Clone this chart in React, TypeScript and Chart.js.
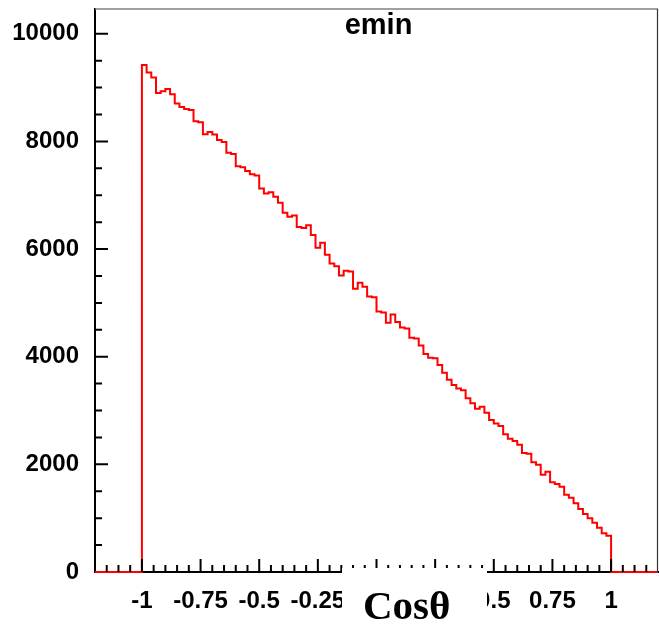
import React, { useEffect, useRef } from 'react';
import { Chart, registerables } from 'chart.js';

Chart.register(...registerables);

// ---- data ----
const histTitle = 'emin';
const axisTitle = 'Cosθ';

const xMin = -1.2;
const xMax = 1.2;
const binWidth = 0.02;
const yMin = 0;
const yMax = 10460;

// bins from -1.2 to -1.0 (empty)
const leftEmptyBins = [0, 0, 0, 0, 0, 0, 0, 0, 0, 0];

// bins from -1.0 to 1.0, width 0.02
const counts = [
  9421, 9280, 9186, 8901, 8932, 8975, 8877, 8703, 8641, 8604,
  8585, 8375, 8357, 8134, 8177, 8128, 8028, 7991, 7787, 7768,
  7540, 7521, 7452, 7391, 7367, 7125, 7033, 7057, 6970, 6858,
  6673, 6598, 6624, 6412, 6390, 6444, 6260, 6026, 6115, 5892,
  5732, 5682, 5509, 5595, 5585, 5261, 5372, 5298, 5120, 5105,
  4841, 4820, 4630, 4785, 4643, 4544, 4525, 4351, 4340, 4210,
  4048, 3980, 3970, 3844, 3701, 3570, 3476, 3408, 3377, 3226,
  3133, 3033, 3070, 2958, 2823, 2761, 2711, 2557, 2476, 2433,
  2364, 2210, 2198, 2037, 1993, 1807, 1863, 1666, 1634, 1584,
  1435, 1380, 1276, 1170, 1077, 997, 916, 823, 718, 674,
];

// bins from 1.0 to 1.2 (empty)
const rightEmptyBins = [0, 0, 0, 0, 0, 0, 0, 0, 0, 0];

const xMajorTicks = [-1, -0.75, -0.5, -0.25, 0, 0.25, 0.5, 0.75, 1];
const xTickLabels = ['-1', '-0.75', '-0.5', '-0.25', '0', '0.25', '0.5', '0.75', '1'];
const xMinorStep = 0.05;

const yMajorTicks = [0, 2000, 4000, 6000, 8000, 10000];
const yTickLabels = ['0', '2000', '4000', '6000', '8000', '10000'];
const yMinorStep = 500;

// ---- styles ----
const tickFont = { family: '"Liberation Sans", Arial, sans-serif', size: 24, weight: 'bold' as const };

const rootFramePlugin = {
  id: 'rootFrame',
  afterDraw(chart: any) {
    const { ctx, chartArea: a, scales } = chart;
    const xs = scales.x;
    const ys = scales.y;
    ctx.save();

    // top & right frame
    ctx.strokeStyle = '#808080';
    ctx.lineWidth = 1.5;
    ctx.beginPath();
    ctx.moveTo(a.left, a.top);
    ctx.lineTo(a.right, a.top);
    ctx.stroke();
    ctx.strokeStyle = '#333';
    ctx.lineWidth = 1.2;
    ctx.beginPath();
    ctx.moveTo(a.right - 0.5, a.top);
    ctx.lineTo(a.right - 0.5, a.bottom);
    ctx.stroke();

    // inward ticks
    ctx.strokeStyle = '#000';
    ctx.lineWidth = 2;
    ctx.beginPath();
    const ny = Math.floor((yMax - yMin) / yMinorStep);
    for (let i = 1; i <= ny; i++) {
      const v = yMin + i * yMinorStep;
      const major = yMajorTicks.indexOf(v) >= 0;
      const py = ys.getPixelForValue(v);
      ctx.moveTo(a.left, py);
      ctx.lineTo(a.left + (major ? 13 : 7), py);
    }
    const nx = Math.round((xMax - xMin) / xMinorStep);
    for (let i = 1; i < nx; i++) {
      const v = xMin + i * xMinorStep;
      const major = xMajorTicks.some((m) => Math.abs(m - v) < 1e-9);
      const px = xs.getPixelForValue(v);
      ctx.moveTo(px, a.bottom);
      ctx.lineTo(px, a.bottom - (major ? 13 : 7));
    }
    ctx.stroke();

    // histogram title
    ctx.fillStyle = '#000';
    ctx.font = 'bold 29px "Liberation Sans", Arial, sans-serif';
    ctx.textAlign = 'center';
    ctx.textBaseline = 'alphabetic';
    ctx.fillText(histTitle, (a.left + a.right) / 2 + 2, a.top + 24.5);

    // axis title with white box (covers part of the axis)
    const boxLeft = a.left + 247;
    const boxRight = a.left + 392;
    const boxTop = a.bottom - 4;
    ctx.fillStyle = '#fff';
    ctx.fillRect(boxLeft, boxTop, boxRight - boxLeft, chart.height - boxTop);
    ctx.fillStyle = '#000';
    ctx.font = 'bold 41px "Liberation Serif", "Times New Roman", serif';
    ctx.textAlign = 'left';
    ctx.fillText(axisTitle, boxLeft + 21, chart.height - 6);

    ctx.restore();
  },
};

export default function App() {
  const canvasRef = useRef<HTMLCanvasElement | null>(null);

  useEffect(() => {
    document.body.style.margin = '0';
    const canvas = canvasRef.current;
    if (!canvas) return;

    const allBins = [...leftEmptyBins, ...counts, ...rightEmptyBins];
    const points = allBins.map((c, i) => ({ x: xMin + i * binWidth, y: c }));
    points.push({ x: xMax, y: 0 });

    const chart = new Chart(canvas, {
      type: 'line',
      data: {
        datasets: [
          {
            data: points,
            borderColor: '#ff0000',
            borderWidth: 2,
            pointRadius: 0,
            stepped: true,
            fill: false,
            clip: false as any,
          },
        ],
      },
      options: {
        animation: false,
        responsive: false,
        devicePixelRatio: 1,
        layout: { padding: { top: 9, right: 1, left: 0, bottom: 0 } },
        plugins: {
          legend: { display: false },
          tooltip: { enabled: false },
          title: { display: false },
        },
        scales: {
          x: {
            type: 'linear',
            min: xMin,
            max: xMax,
            grid: { display: false, drawTicks: false },
            border: { display: true, color: '#000', width: 2 },
            ticks: {
              autoSkip: false,
              maxRotation: 0,
              minRotation: 0,
              padding: 15,
              color: '#000',
              font: tickFont,
              callback: (_v: any, i: number) => xTickLabels[i],
            },
            afterBuildTicks: (s: any) => {
              s.ticks = xMajorTicks.map((v) => ({ value: v }));
            },
            afterFit: (s: any) => {
              s.height = 53;
              s.paddingLeft = 0;
              s.paddingRight = 0;
            },
          },
          y: {
            type: 'linear',
            min: yMin,
            max: yMax,
            grid: { display: false, drawTicks: false },
            border: { display: true, color: '#000', width: 2 },
            ticks: {
              padding: 16,
              color: '#000',
              font: tickFont,
              callback: (_v: any, i: number) => yTickLabels[i],
            },
            afterBuildTicks: (s: any) => {
              s.ticks = yMajorTicks.map((v) => ({ value: v }));
            },
            afterFit: (s: any) => {
              s.width = 95;
              s.paddingTop = 0;
              s.paddingBottom = 0;
            },
          },
        },
      },
      plugins: [rootFramePlugin],
    });

    return () => {
      chart.destroy();
    };
  }, []);

  return (
    <div style={{ position: 'absolute', left: 0, top: 0, width: 659, height: 625, background: '#fff' }}>
      <canvas ref={canvasRef} width={659} height={625} style={{ display: 'block' }} />
    </div>
  );
}
